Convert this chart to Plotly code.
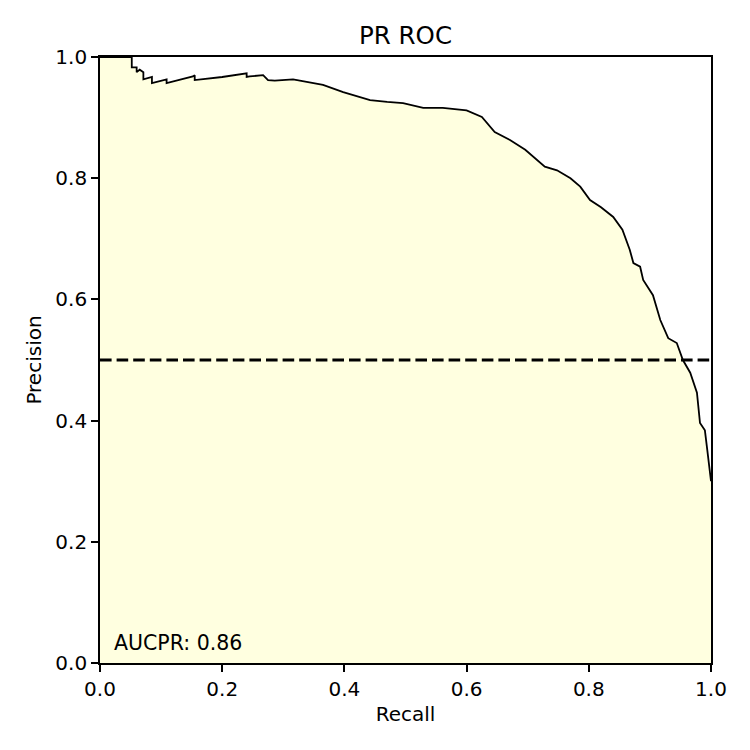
import plotly.graph_objects as go

# precision / recall points
recall = [0.0, 0.052, 0.052, 0.060, 0.060, 0.065, 0.071, 0.071, 0.085, 0.085, 0.109, 0.109,
          0.152, 0.155, 0.155, 0.20, 0.240, 0.240, 0.245, 0.267, 0.275, 0.286, 0.316, 0.34,
          0.365, 0.398, 0.42, 0.442, 0.470, 0.496, 0.529, 0.561, 0.60, 0.625, 0.646, 0.671,
          0.696, 0.728, 0.748, 0.770, 0.786, 0.802, 0.820, 0.840, 0.855, 0.867, 0.873,
          0.884, 0.889, 0.905, 0.917, 0.930, 0.944, 0.954, 0.966, 0.977, 0.982, 0.990,
          0.994, 0.998, 1.0]
precision = [1.0, 1.0, 0.983, 0.983, 0.975, 0.979, 0.975, 0.963, 0.967, 0.957, 0.963, 0.957,
             0.968, 0.970, 0.962, 0.967, 0.973, 0.967, 0.968, 0.970, 0.962, 0.961, 0.963, 0.958,
             0.954, 0.942, 0.936, 0.929, 0.926, 0.924, 0.916, 0.916, 0.912, 0.901, 0.876, 0.863,
             0.847, 0.819, 0.813, 0.800, 0.786, 0.764, 0.752, 0.736, 0.715, 0.682, 0.660,
             0.654, 0.632, 0.607, 0.566, 0.536, 0.528, 0.500, 0.479, 0.446, 0.396, 0.384,
             0.351, 0.310, 0.300]
baseline = 0.5
auc_text = "AUCPR: 0.86"

fig = go.Figure()
fig.add_trace(go.Scatter(x=recall, y=precision, mode='lines',
                         line=dict(color='black', width=1.8),
                         fill='tozeroy', fillcolor='#FFFFE0', showlegend=False))
fig.add_trace(go.Scatter(x=[0, 1], y=[baseline, baseline], mode='lines',
                         line=dict(color='black', width=3, dash='11.6px,5px'), showlegend=False))

fig.add_annotation(x=0.02, y=0.033, xref='x', yref='y', text=auc_text, showarrow=False,
                   xanchor='left', yanchor='middle', font=dict(size=20.5, color='black'))

axis_style = dict(range=[0, 1], dtick=0.2, tickformat='.1f', showgrid=False, zeroline=False,
                  showline=True, linecolor='black', linewidth=1.7, mirror=True,
                  ticks='outside', ticklen=7, tickwidth=1.7, tickcolor='black',
                  tickfont=dict(size=20, color='black'))

fig.update_xaxes(title=dict(text='Recall', font=dict(size=20, color='black'), standoff=7), **axis_style)
fig.update_yaxes(title=dict(text='Precision', font=dict(size=20, color='black'), standoff=8), **axis_style)

fig.update_layout(
    width=750, height=750,
    margin=dict(l=92, r=47, t=49, b=95),
    title=dict(text='PR ROC', x=0.5, xref='paper', xanchor='center', y=0.963, yanchor='middle',
               font=dict(size=24.5, color='black')),
    font=dict(family='DejaVu Sans'),
    plot_bgcolor='white', paper_bgcolor='white',
)

fig.write_html("out.html")
